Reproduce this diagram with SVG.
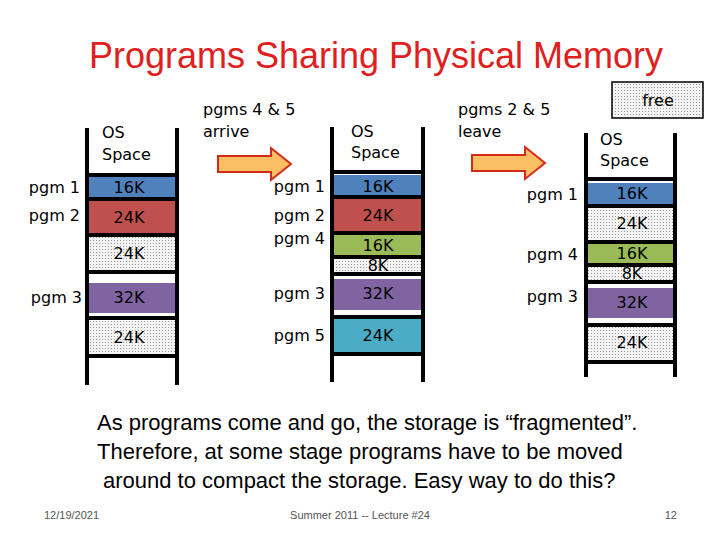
<svg xmlns="http://www.w3.org/2000/svg" width="720" height="540" viewBox="0 0 720 540">
<defs>
<pattern id="dots" width="3" height="3" patternUnits="userSpaceOnUse"><rect width="3" height="3" fill="#f4f4f4"/><rect width="1" height="1" fill="#999"/></pattern>
<style>
.t{font-family:"DejaVu Sans",Verdana,sans-serif;font-size:16px;fill:#000}
.c{text-anchor:middle}
.r{text-anchor:end}
.ln{stroke:#000;stroke-width:4}
.b{fill:#4f81bd}.rd{fill:#c0504d}.g{fill:#9bbb59}.p{fill:#8064a2}.cy{fill:#4bacc6}.f{fill:url(#dots)}
.arr{fill:#fbbf63;stroke:#d42a1a;stroke-width:2}
.cal{font-family:"Liberation Sans",Arial,sans-serif}
</style>
</defs>
<rect width="720" height="540" fill="#fff"/>
<text x="376" y="68" class="cal c" font-size="36" fill="#e0201c">Programs Sharing Physical Memory</text>
<g id="mem1">
<rect x="87" y="177" width="90" height="21" class="b"/><rect x="87" y="201" width="90" height="33" class="rd"/>
<rect x="87" y="237" width="90" height="33" class="f"/><rect x="87" y="283" width="90" height="30" class="p"/>
<rect x="87" y="321" width="90" height="34" class="f"/>
<g class="ln"><line x1="87" y1="128" x2="87" y2="385"/><line x1="177" y1="128" x2="177" y2="385"/>
<line x1="87" y1="175" x2="177" y2="175"/><line x1="87" y1="199" x2="177" y2="199"/><line x1="87" y1="235" x2="177" y2="235"/><line x1="87" y1="272" x2="177" y2="272"/><line x1="87" y1="318" x2="177" y2="318"/><line x1="87" y1="356" x2="177" y2="356"/></g>
<text x="102" y="138" class="t">OS</text><text x="102" y="160" class="t">Space</text>
<text x="129" y="193" class="t c">16K</text><text x="129" y="223" class="t c">24K</text><text x="129" y="259" class="t c">24K</text><text x="129" y="303" class="t c">32K</text><text x="129" y="343" class="t c">24K</text>
<text x="80" y="193" class="t r">pgm 1</text><text x="80" y="221" class="t r">pgm 2</text><text x="82" y="303" class="t r">pgm 3</text>
</g>
<g id="mem2">
<rect x="332" y="175" width="91" height="22" class="b"/><rect x="332" y="198" width="91" height="34" class="rd"/>
<rect x="332" y="234" width="91" height="22" class="g"/><rect x="332" y="258" width="91" height="15" class="f"/>
<rect x="332" y="279" width="91" height="31" class="p"/><rect x="332" y="319" width="91" height="34" class="cy"/>
<g class="ln"><line x1="332" y1="127" x2="332" y2="382"/><line x1="423" y1="127" x2="423" y2="382"/>
<line x1="332" y1="172" x2="423" y2="172"/><line x1="332" y1="197" x2="423" y2="197"/><line x1="332" y1="233" x2="423" y2="233"/><line x1="332" y1="257" x2="423" y2="257"/><line x1="332" y1="274" x2="423" y2="274"/><line x1="332" y1="317" x2="423" y2="317"/><line x1="332" y1="354" x2="423" y2="354"/></g>
<text x="351" y="137" class="t">OS</text><text x="351" y="158" class="t">Space</text>
<text x="378" y="192" class="t c">16K</text><text x="378" y="221" class="t c">24K</text><text x="378" y="251" class="t c">16K</text><text x="378" y="271" class="t c">8K</text><text x="378" y="299" class="t c">32K</text><text x="378" y="341" class="t c">24K</text>
<text x="325" y="192" class="t r">pgm 1</text><text x="325" y="221" class="t r">pgm 2</text><text x="325" y="244" class="t r">pgm 4</text><text x="325" y="299" class="t r">pgm 3</text><text x="325" y="341" class="t r">pgm 5</text>
</g>
<g id="mem3">
<rect x="586" y="183" width="89" height="21" class="b"/><rect x="586" y="207" width="89" height="34" class="f"/>
<rect x="586" y="243" width="89" height="21" class="g"/><rect x="586" y="267" width="89" height="14" class="f"/>
<rect x="586" y="288" width="89" height="30" class="p"/><rect x="586" y="327" width="89" height="33" class="f"/>
<g class="ln"><line x1="586" y1="133" x2="586" y2="377"/><line x1="675" y1="133" x2="675" y2="377"/>
<line x1="586" y1="179" x2="675" y2="179"/><line x1="586" y1="206" x2="675" y2="206"/><line x1="586" y1="242" x2="675" y2="242"/><line x1="586" y1="265" x2="675" y2="265"/><line x1="586" y1="282" x2="675" y2="282"/><line x1="586" y1="325" x2="675" y2="325"/><line x1="586" y1="362" x2="675" y2="362"/></g>
<text x="600" y="145" class="t">OS</text><text x="600" y="166" class="t">Space</text>
<text x="632" y="199" class="t c">16K</text><text x="632" y="229" class="t c">24K</text><text x="632" y="259" class="t c">16K</text><text x="632" y="279" class="t c">8K</text><text x="632" y="308" class="t c">32K</text><text x="632" y="348" class="t c">24K</text>
<text x="578" y="200" class="t r">pgm 1</text><text x="578" y="260" class="t r">pgm 4</text><text x="578" y="302" class="t r">pgm 3</text>
</g>
<g id="legend"><rect x="612" y="82" width="91" height="36" class="f" stroke="#000" stroke-width="1.5"/><text x="658" y="106" class="t c" font-size="18">free</text></g>
<g id="arrows">
<path d="M218 156 H271 V148 L291 164 L271 180 V172 H218 Z" class="arr"/>
<path d="M472 155 H525 V147 L545 163 L525 179 V171 H472 Z" class="arr"/>
</g>
<text x="203" y="115" class="t">pgms 4 &amp; 5</text><text x="203" y="137" class="t">arrive</text>
<text x="458" y="115" class="t">pgms 2 &amp; 5</text><text x="458" y="137" class="t">leave</text>
<g class="cal" font-size="22" fill="#000">
<text x="97" y="430">As programs come and go, the storage is “fragmented”.</text>
<text x="97" y="459">Therefore, at some stage programs have to be moved</text>
<text x="103" y="488">around to compact the storage. Easy way to do this?</text>
</g>
<g class="cal" font-size="11" fill="#555">
<text x="44" y="519">12/19/2021</text><text x="360" y="519" text-anchor="middle">Summer 2011 -- Lecture #24</text><text x="677" y="519" text-anchor="end">12</text>
</g>
</svg>
